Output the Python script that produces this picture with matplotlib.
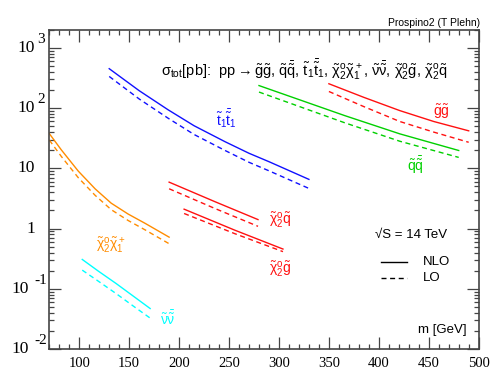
import numpy as np
import matplotlib
matplotlib.use('Agg')
import matplotlib.pyplot as plt
from matplotlib.ticker import MultipleLocator, LogLocator, NullFormatter

plt.rcParams['font.family'] = ['Liberation Sans', 'DejaVu Sans']
plt.rcParams['mathtext.fontset'] = 'custom'
plt.rcParams['mathtext.rm'] = 'Liberation Sans'
plt.rcParams['mathtext.it'] = 'Liberation Sans'
plt.rcParams['mathtext.bf'] = 'Liberation Sans:bold'
plt.rcParams['lines.scale_dashes'] = False

# cross sections (mass in GeV, sigma in pb)
m_t1t1 = [130, 160, 189, 215, 246, 270, 290, 330]
nlo_t1t1 = [452, 195, 93.8, 51, 27.7, 17.8, 12.9, 6.56]
lo_t1t1 = [336, 142, 68, 36.5, 19.8, 12.6, 9.1, 4.64]

m_qq = [280, 366, 421, 480]
nlo_qq = [237, 75, 37.4, 19.8]
lo_qq = [185, 57, 28.2, 15.2]

m_gg = [350, 385, 421, 455, 490]
nlo_gg = [254, 151, 91, 60, 42]
lo_gg = [189, 106, 60, 40, 27.1]

m_n2c1 = [70, 82, 99, 116, 132, 149, 166, 190]
nlo_n2c1 = [37.8, 20.3, 9.0, 4.55, 2.64, 1.74, 1.22, 0.72]
lo_n2c1 = [29.5, 15.8, 7.0, 3.55, 2.06, 1.36, 0.95, 0.56]

m_nn = [103, 119, 137, 156, 171]
nlo_nn = [0.307, 0.197, 0.122, 0.0716, 0.047]
lo_nn = [0.204, 0.134, 0.083, 0.049, 0.0326]

m_n2q = [190, 236, 279]
nlo_n2q = [5.9, 2.79, 1.41]
lo_n2q = [4.58, 2.15, 1.09]

m_n2g = [205, 256, 304]
nlo_n2g = [2.1, 0.937, 0.457]
lo_n2g = [1.78, 0.82, 0.414]

ytick_vals = [0.01, 0.1, 1, 10, 100, 1000]
ytick_base = ['10', '10', '1', '10', '10', '10']
ytick_exp = ['-2', '-1', '', '', '2', '3']

fig = plt.figure(figsize=(4.98, 3.82), dpi=100)
ax = fig.add_axes([0.099, 0.0864, 0.8622, 0.8356])

dash = (0, (3.6, 2.6))
lw = 1.0
curves = [
    (m_t1t1, nlo_t1t1, lo_t1t1, '#1010ff'),
    (m_qq, nlo_qq, lo_qq, '#00d000'),
    (m_gg, nlo_gg, lo_gg, '#ff1010'),
    (m_n2c1, nlo_n2c1, lo_n2c1, '#ff8c00'),
    (m_nn, nlo_nn, lo_nn, '#00ffff'),
    (m_n2q, nlo_n2q, lo_n2q, '#ff1010'),
    (m_n2g, nlo_n2g, lo_n2g, '#ff1010'),
]
for m, nlo, lo, c in curves:
    ax.plot(m, nlo, color=c, lw=lw)
    ax.plot(m, lo, color=c, lw=lw, linestyle=dash)

ax.set_yscale('log')
ax.set_xlim(70, 500)
ax.set_ylim(0.01, 2000)

# ticks
ax.xaxis.set_major_locator(MultipleLocator(50))
ax.xaxis.set_minor_locator(MultipleLocator(10))
ax.set_xticks([100, 150, 200, 250, 300, 350, 400, 450, 500])
ax.set_yticks(ytick_vals)
ax.set_yticklabels([''] * len(ytick_vals))
ax.yaxis.set_minor_locator(LogLocator(base=10, subs=np.arange(2, 10)))
ax.yaxis.set_minor_formatter(NullFormatter())
ax.tick_params(which='both', direction='in', top=True, right=True, color='#444444', width=0.9)
ax.tick_params(which='major', length=8.5)
ax.tick_params(which='minor', length=3.6)
ax.tick_params(axis='x', which='major', pad=6, labelsize=10.5)
for lab in ax.get_xticklabels():
    lab.set_family('Liberation Serif')
for s in ax.spines.values():
    s.set_color('#444444')
    s.set_linewidth(1.2)

for v, b, e in zip(ytick_vals, ytick_base, ytick_exp):
    if e == '':
        bx = -10.3
    elif e.startswith('-'):
        bx = -14.5
    else:
        bx = -10.3
    ax.annotate(b, xy=(0, v), xycoords=('axes fraction', 'data'), xytext=(bx, 0),
                textcoords='offset points', ha='right', va='center',
                family='Liberation Serif', fontsize=12.5)
    if e:
        ex = -10.5 if e.startswith('-') else -8.8
        ax.annotate(e, xy=(0, v), xycoords=('axes fraction', 'data'), xytext=(ex, 6),
                    textcoords='offset points', ha='left', va='center',
                    family='Liberation Serif', fontsize=11)

# title inside the frame
ax.text(0.593, 0.875,
        r'$\sigma_{tot}$[pb]:  pp$\rightarrow\tilde{g}\tilde{g}$, $\tilde{q}\bar{\tilde{q}}$, '
        r'$\tilde{t}_1\bar{\tilde{t}}_1$, $\tilde{\chi}^o_2\tilde{\chi}^+_1$, '
        r'$\tilde{\nu}\bar{\tilde{\nu}}$, $\tilde{\chi}^o_2\tilde{g}$, $\tilde{\chi}^o_2\tilde{q}$',
        transform=ax.transAxes, ha='center', va='center', fontsize=10.5)

# curve labels
ax.text(247, 68, r'$\tilde{t}_1\bar{\tilde{t}}_1$', color='#1010ff', ha='center', va='center', fontsize=10)
ax.text(132, 0.53, r'$\tilde{\chi}^o_2\tilde{\chi}^+_1$', color='#ff8c00', ha='center', va='center', fontsize=10)
ax.text(189, 0.032, r'$\tilde{\nu}\bar{\tilde{\nu}}$', color='#00ffff', ha='center', va='center', fontsize=10)
ax.text(301, 1.37, r'$\tilde{\chi}^o_2\tilde{q}$', color='#ff1010', ha='center', va='center', fontsize=10)
ax.text(301, 0.21, r'$\tilde{\chi}^o_2\tilde{g}$', color='#ff1010', ha='center', va='center', fontsize=10)
ax.text(463, 88, r'$\tilde{g}\tilde{g}$', color='#ff1010', ha='center', va='center', fontsize=10)
ax.text(437, 11.4, r'$\tilde{q}\bar{\tilde{q}}$', color='#00d000', ha='center', va='center', fontsize=10)

# energy and legend
ax.text(0.7585, 0.357, '\u221aS = 14 TeV', transform=ax.transAxes, ha='left', va='center', fontsize=9.5)
ax.plot([0.772, 0.833], [0.272, 0.272], color='black', lw=1.0, transform=ax.transAxes)
ax.plot([0.772, 0.833], [0.2216, 0.2216], color='black', lw=1.0, linestyle=dash, transform=ax.transAxes)
ax.text(0.8705, 0.272, 'NLO', transform=ax.transAxes, ha='left', va='center', fontsize=9.5)
ax.text(0.8705, 0.2216, 'LO', transform=ax.transAxes, ha='left', va='center', fontsize=9.5)
ax.text(0.973, 0.0596, 'm [GeV]', transform=ax.transAxes, ha='right', va='center', fontsize=9.5)

fig.text(0.964, 0.94, 'Prospino2 (T Plehn)', ha='right', va='center', fontsize=7.5)

fig.savefig('out.png', dpi=100)
